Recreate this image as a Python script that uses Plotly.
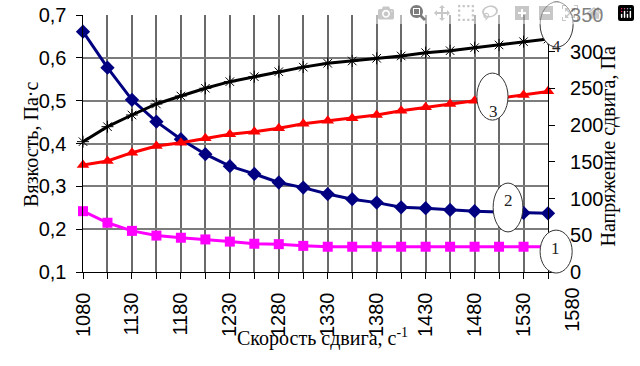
import plotly.graph_objects as go

# ---- data ----
shear_rate = [1080, 1105, 1130, 1155, 1180, 1205, 1230, 1255, 1280, 1305,
              1330, 1355, 1380, 1405, 1430, 1455, 1480, 1505, 1530, 1555]
viscosity_1 = [0.242, 0.215, 0.196, 0.185, 0.180, 0.176, 0.171, 0.166, 0.165, 0.161,
               0.159, 0.159, 0.159, 0.159, 0.159, 0.159, 0.159, 0.159, 0.159, 0.159]
viscosity_2 = [0.661, 0.577, 0.502, 0.451, 0.410, 0.375, 0.347, 0.329, 0.309, 0.297,
               0.282, 0.270, 0.262, 0.251, 0.249, 0.245, 0.242, 0.240, 0.238, 0.237]
stress_3 = [145.7, 151.2, 162.5, 171.6, 176.1, 182.0, 187.5, 191.0, 195.7, 202.0,
            206.0, 209.3, 213.8, 219.7, 224.3, 228.8, 233.3, 236.5, 241.0, 246.0]
stress_4 = [177.5, 197.9, 213.8, 228.8, 239.7, 250.2, 259.2, 266.0, 272.8, 279.0,
            284.2, 287.4, 291.0, 294.2, 298.7, 301.4, 305.5, 309.2, 313.7, 317.3]

x_tick_labels = ["1080", "1130", "1180", "1230", "1280", "1330",
                 "1380", "1430", "1480", "1530", "1580"]
left_ticks = [0.1, 0.2, 0.3, 0.4, 0.5, 0.6, 0.7]
left_tick_labels = ["0,1", "0,2", "0,3", "0,4", "0,5", "0,6", "0,7"]
right_ticks = [0, 50, 100, 150, 200, 250, 300, 350]
right_tick_labels = ["0", "50", "100", "150", "200", "250", "300", "350"]
curve_labels = ["1", "2", "3", "4"]

TICK_FONT = dict(family="Liberation Sans, Arial, sans-serif", size=20, color="black")
SERIF = "Liberation Serif, Times New Roman, serif"
NB = "\u00a0"

fig = go.Figure()
fig.add_trace(go.Scatter(x=shear_rate, y=viscosity_1, mode="lines+markers",
                         line=dict(color="#FF00FF", width=3),
                         marker=dict(symbol="square", size=10, color="#FF00FF"),
                         cliponaxis=False, name="1"))
fig.add_trace(go.Scatter(x=shear_rate, y=viscosity_2, mode="lines+markers",
                         line=dict(color="#000080", width=3),
                         marker=dict(symbol="diamond", size=11, color="#000080"),
                         cliponaxis=False, name="2"))
fig.add_trace(go.Scatter(x=shear_rate, y=stress_3, mode="lines+markers", yaxis="y2",
                         line=dict(color="#FF0000", width=3),
                         marker=dict(symbol="triangle-up", size=11, color="#FF0000"),
                         cliponaxis=False, name="3"))
fig.add_trace(go.Scatter(x=shear_rate, y=stress_4, mode="lines+markers", yaxis="y2",
                         line=dict(color="black", width=3),
                         marker=dict(symbol="asterisk-open", size=10,
                                     line=dict(color="black", width=1)),
                         cliponaxis=False, name="4"))

x_ticktext = [(str(v) + NB) if str(v) in x_tick_labels else NB for v in shear_rate]

fig.update_layout(
    width=640, height=366,
    margin=dict(l=83, r=92, t=15, b=94),
    plot_bgcolor="white",
    showlegend=False,
    xaxis=dict(range=[shear_rate[0], shear_rate[-1]],
               tickmode="array", tickvals=shear_rate, ticktext=x_ticktext,
               tickangle=-90, tickfont=TICK_FONT,
               ticks="outside", ticklen=6, tickcolor="black",
               showgrid=True, gridcolor="#6a6a6a", gridwidth=2,
               showline=True, linecolor="black", automargin=False),
    yaxis=dict(range=[0.1, 0.7], tickmode="array", tickvals=left_ticks,
               ticktext=[t + NB for t in left_tick_labels], tickfont=TICK_FONT,
               ticks="outside", ticklen=6, tickcolor="black",
               showgrid=True, gridcolor="#7c7c7c", gridwidth=2,
               showline=True, linecolor="black", automargin=False),
    yaxis2=dict(range=[0, 350], tickmode="array", tickvals=right_ticks,
                ticktext=[NB + NB + t for t in right_tick_labels],
                overlaying="y", side="right",
                tickfont=TICK_FONT, ticks="outside", ticklen=6, tickcolor="black",
                showgrid=False, showline=True, linecolor="black", automargin=False),
)

# extra category label beyond the last point (as in the source)
fig.add_annotation(text=x_tick_labels[-1], xref="paper", yref="paper",
                   x=(1580 - shear_rate[0]) / (shear_rate[-1] - shear_rate[0]),
                   y=-0.05, xanchor="center", yanchor="top", textangle=-90,
                   showarrow=False, font=TICK_FONT)

# axis titles
fig.add_annotation(text="Вязкость, Па·с", xref="paper", yref="paper",
                   x=-0.14, y=0.498, textangle=-90, showarrow=False,
                   font=dict(family=SERIF, size=20, color="black"))
fig.add_annotation(text="Напряжение сдвига, Па", xref="paper", yref="paper",
                   x=1.159, y=0.49, textangle=-90, showarrow=False,
                   font=dict(family=SERIF, size=20, color="black"))
fig.add_annotation(text="Скорость сдвига, с<sup>-1</sup>", xref="paper", yref="paper",
                   x=0.514, y=-0.311, showarrow=False,
                   font=dict(family=SERIF, size=20, color="black"))

# curve number callouts (ellipses)
ellipses = [  # x0, x1, y0, y1 in paper, text x, text y
    (0.983, 1.052, -0.004, 0.163, 1.030, 0.047),
    (0.882, 0.946, 0.156, 0.346, 0.929, 0.233),
    (0.847, 0.914, 0.591, 0.774, 0.897, 0.669),
    (0.983, 1.054, 0.875, 1.051, 1.032, 0.922),
]
for lbl, (x0, x1, y0, y1, tx, ty) in zip(curve_labels, ellipses):
    fig.add_shape(type="circle", xref="paper", yref="paper",
                  x0=x0, x1=x1, y0=y0, y1=y1, layer="above",
                  fillcolor="white", line=dict(color="#333333", width=1))
    fig.add_annotation(text=lbl, xref="paper", yref="paper", x=tx, y=ty,
                       showarrow=False,
                       font=dict(family=SERIF, size=17, color="#222222"))

fig.write_html("out.html",
               post_script="document.body.style.margin='0px';")
